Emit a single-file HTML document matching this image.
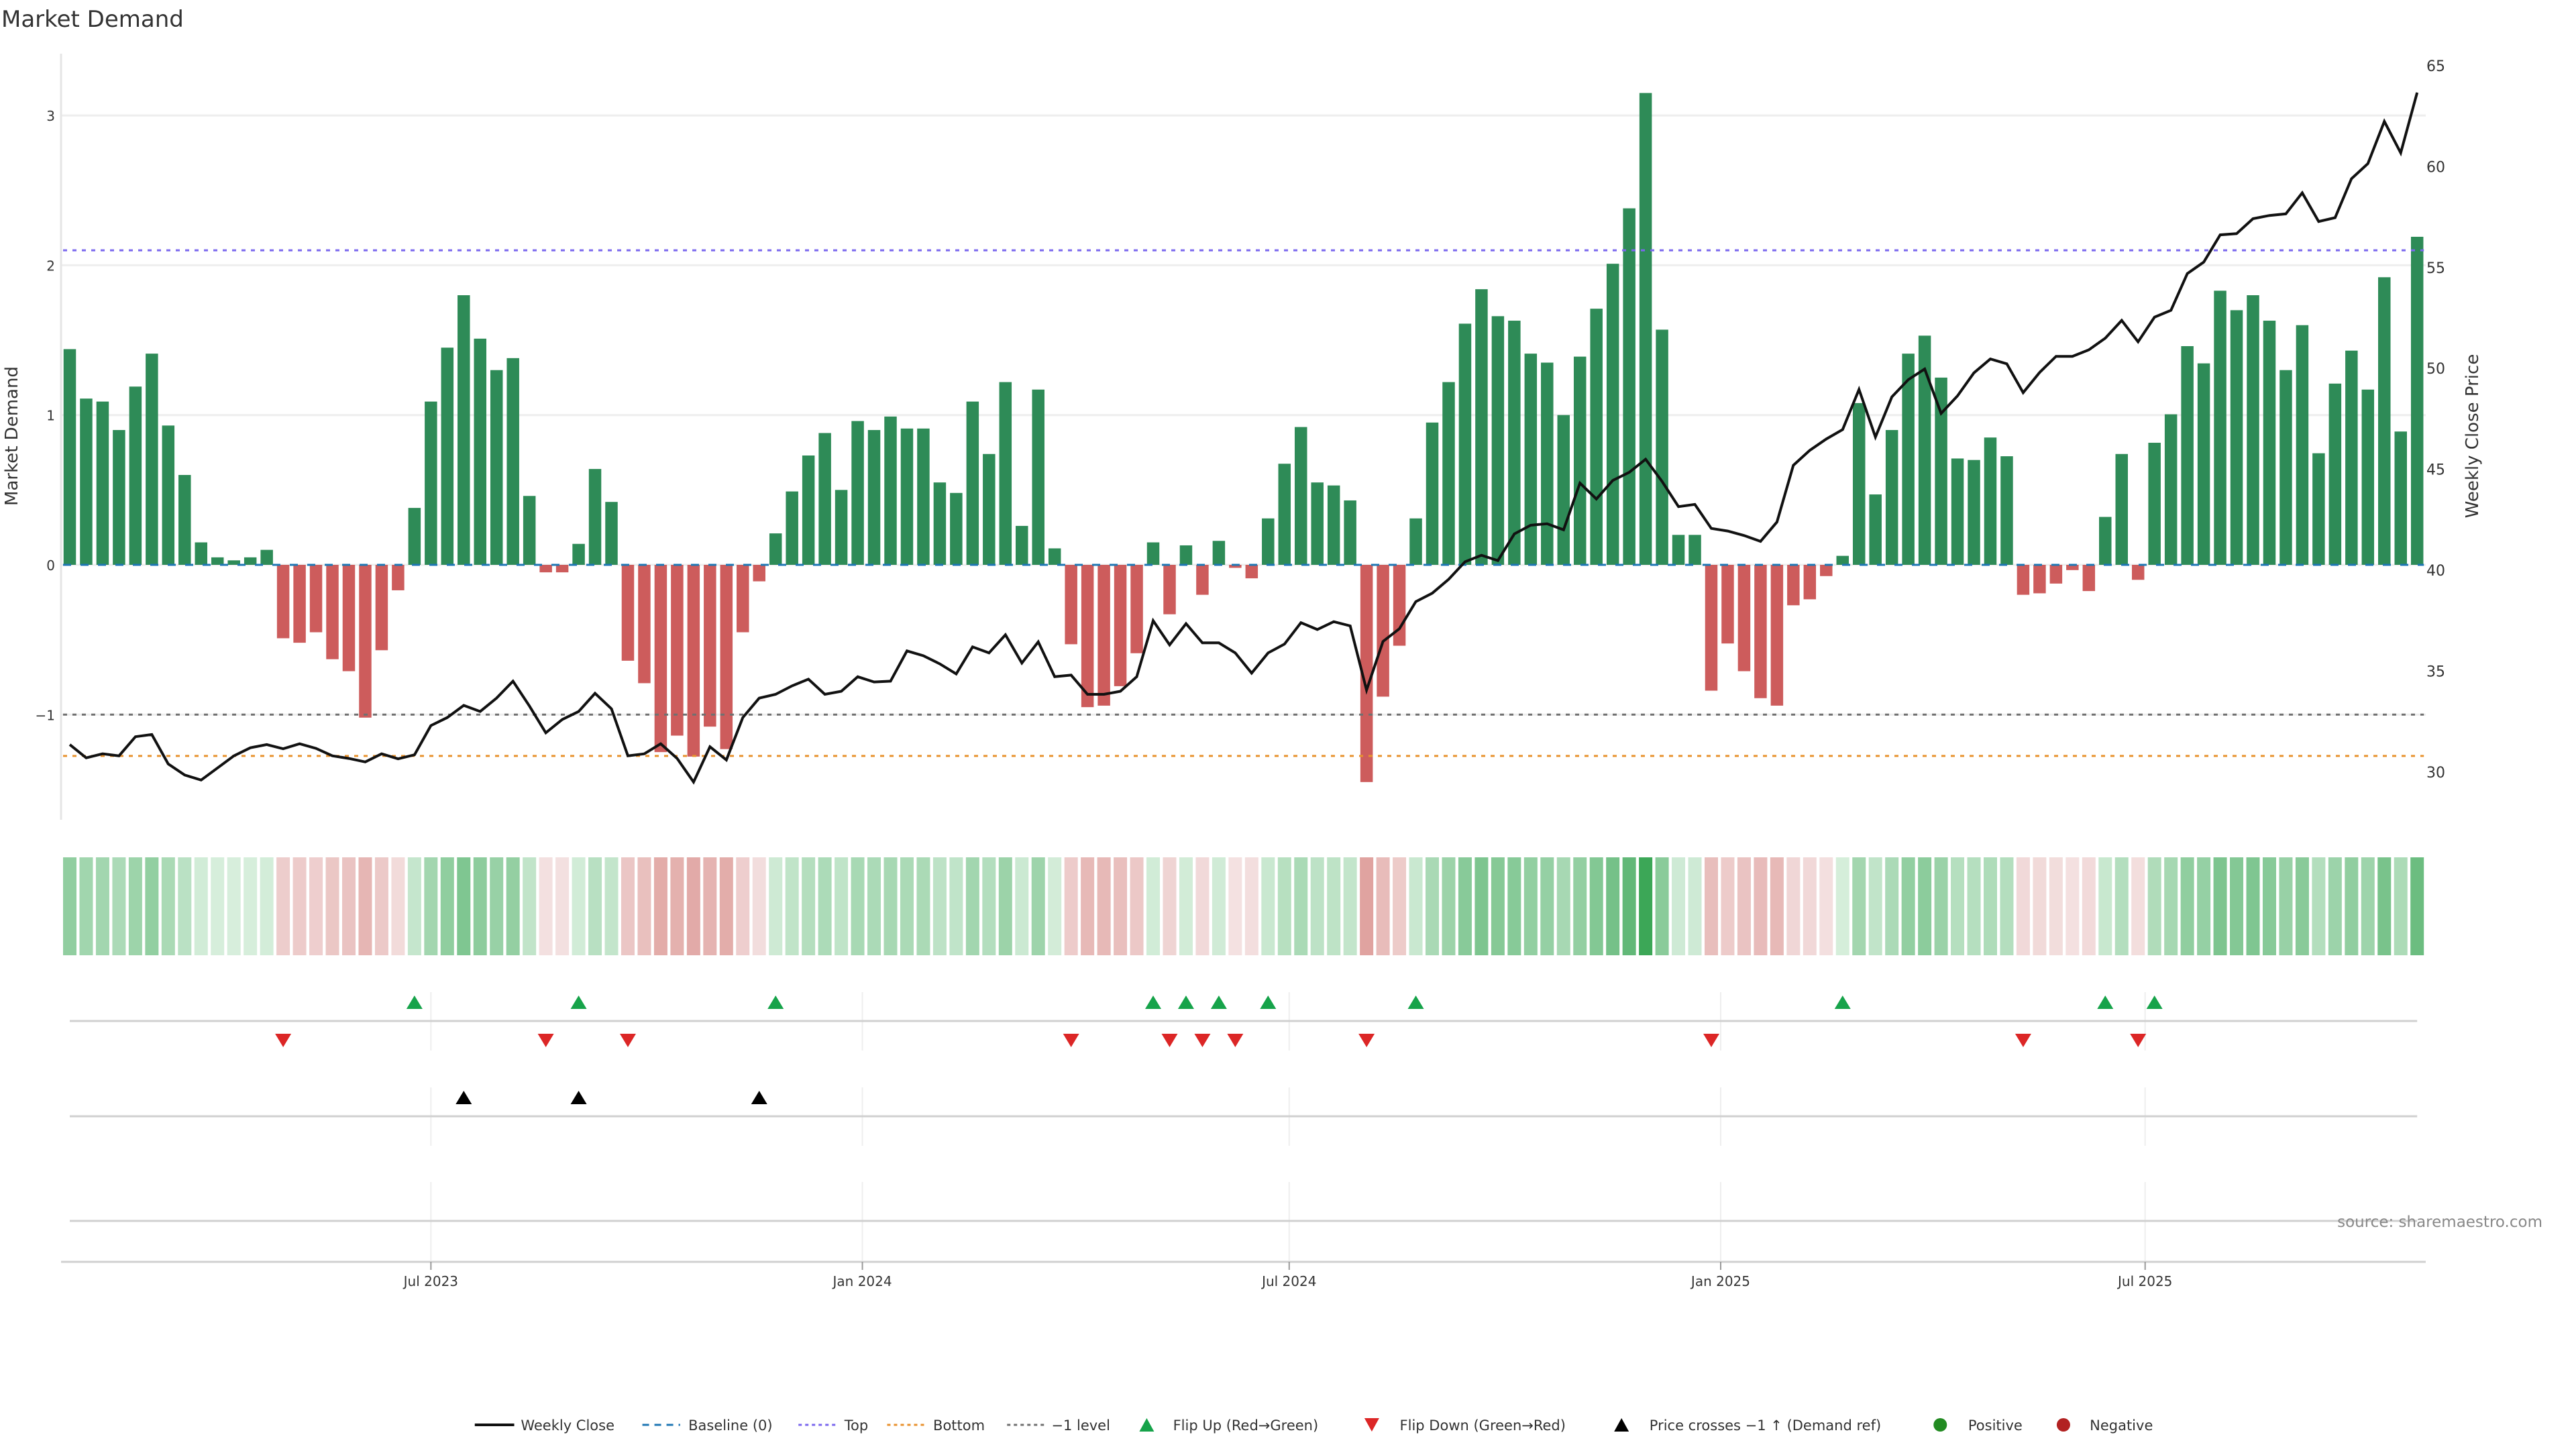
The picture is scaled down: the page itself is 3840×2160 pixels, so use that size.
<!DOCTYPE html>
<html><head><meta charset="utf-8"><style>
html,body{margin:0;padding:0;background:#fff;}
svg{display:block;font-family:"DejaVu Sans","Liberation Sans",sans-serif;}
</style></head><body>
<svg id="chart" width="3840" height="2160" viewBox="0 0 3840 2160" xmlns="http://www.w3.org/2000/svg">
<text x="2" y="40" font-size="34" fill="#333">Market Demand</text>
<g id="grid"></g>
<g id="bars"></g>
<g id="refs"></g>
<g id="price"></g>
<g id="heat"></g>
<g id="marks"></g>
<g id="axes"></g>
<text transform="translate(26,650) rotate(-90)" text-anchor="middle" font-size="26" fill="#333">Market Demand</text>
<text transform="translate(3694,650) rotate(-90)" text-anchor="middle" font-size="26" fill="#333">Weekly Close Price</text>
<text x="3790" y="1829" text-anchor="end" font-size="23" fill="#888">source: sharemaestro.com</text>
<g id="legend"></g>
</svg>
<script>
const demand=[1.44,1.11,1.09,0.90,1.19,1.41,0.93,0.60,0.15,0.05,0.03,0.05,0.10,-0.49,-0.52,-0.45,-0.63,-0.71,-1.02,-0.57,-0.17,0.38,1.09,1.45,1.80,1.51,1.30,1.38,0.46,-0.05,-0.05,0.14,0.64,0.42,-0.64,-0.79,-1.25,-1.14,-1.28,-1.08,-1.23,-0.45,-0.11,0.21,0.49,0.73,0.88,0.50,0.96,0.90,
0.99,0.91,0.91,0.55,0.48,1.09,0.74,1.22,0.26,1.17,0.11,-0.53,-0.95,-0.94,-0.81,-0.59,0.15,-0.33,0.13,-0.20,0.16,-0.02,-0.09,0.31,0.675,0.92,0.55,0.53,0.43,-1.45,-0.88,-0.54,0.31,0.95,1.22,1.61,1.84,1.66,1.63,1.41,1.35,1.00,1.39,1.71,2.01,2.38,3.15,1.57,0.20,0.20,
-0.84,-0.525,-0.71,-0.89,-0.94,-0.27,-0.23,-0.075,0.06,1.08,0.47,0.90,1.41,1.53,1.25,0.71,0.70,0.85,0.725,-0.20,-0.19,-0.125,-0.035,-0.175,0.32,0.74,-0.10,0.815,1.005,1.46,1.345,1.83,1.70,1.80,1.63,1.30,1.60,0.745,1.21,1.43,1.17,1.92,0.89,2.19];
const closePrice=[31.36,30.7,30.9,30.8,31.75,31.86,30.4,29.85,29.6,30.2,30.8,31.2,31.36,31.15,31.4,31.17,30.8,30.67,30.5,30.9,30.65,30.85,32.3,32.7,33.3,33.0,33.66,34.5,33.27,31.94,32.6,33.0,33.9,33.13,30.8,30.9,31.4,30.67,29.5,31.25,30.6,32.7,33.66,33.85,34.27,34.6,33.85,34.0,34.72,34.46,
34.5,36.0,35.76,35.36,34.86,36.2,35.9,36.8,35.4,36.45,34.72,34.8,33.85,33.85,34.0,34.72,37.5,36.3,37.35,36.4,36.4,35.9,34.9,35.9,36.34,37.4,37.06,37.45,37.24,34.06,36.47,37.1,38.44,38.86,39.55,40.42,40.74,40.48,41.8,42.23,42.3,42.0,44.32,43.53,44.45,44.85,45.5,44.4,43.15,43.26,
42.07,41.94,41.72,41.43,42.39,45.2,45.94,46.5,46.97,48.96,46.6,48.59,49.44,49.97,47.77,48.64,49.78,50.47,50.23,48.8,49.8,50.6,50.6,50.92,51.5,52.38,51.32,52.54,52.88,54.7,55.27,56.62,56.68,57.42,57.58,57.66,58.7,57.28,57.47,59.4,60.15,62.24,60.68,63.67];
const demandTicks=[-1,0,1,2,3];
const demandTickLabels=["\u22121","0","1","2","3"];
const priceTicks=[30,35,40,45,50,55,60,65];
const dateTicks=["2023-07-01","2024-01-01","2024-07-01","2025-01-01","2025-07-01"];
const dateTickLabels=["Jul 2023","Jan 2024","Jul 2024","Jan 2025","Jul 2025"];
const startDate="2023-01-28";
const topLevel=2.1, bottomLevel=-1.276, minusOneLevel=-1, priceRef=32.85;

const NS="http://www.w3.org/2000/svg";
function el(tag,attrs,parent){const e=document.createElementNS(NS,tag);for(const k in attrs)e.setAttribute(k,attrs[k]);parent.appendChild(e);return e;}
const X0=104,DX=24.47,XL=91,XR=3616;
const xi=i=>X0+i*DX;
const yD=v=>842-v*223.3;
const yP=p=>850-(p-40)*30.08;
const xDate=s=>X0+((new Date(s+"T00:00:00Z")-new Date(startDate+"T00:00:00Z"))/86400000/7)*DX;
const G=id=>document.getElementById(id);

demandTicks.forEach((t,k)=>{
  const l=el('line',{x1:XL,x2:XR,y1:yD(t),y2:yD(t),stroke:'#eeeeee','stroke-width':3},G('grid'));
  
  const tx=el('text',{x:82,y:yD(t)+8,'text-anchor':'end','font-size':20,fill:'#333'},G('axes'));
  
  tx.textContent=demandTickLabels[k];
});
priceTicks.forEach(p=>{
  const tx=el('text',{x:3617,y:yP(p)+8,'font-size':22,fill:'#333'},G('axes'));
  
  tx.textContent=String(p);
});
let ax=el('line',{x1:XL,x2:XL,y1:80,y2:1222,stroke:'#e6e6e6','stroke-width':3},G('axes'));


const BW=18.5;
demand.forEach((v,i)=>{
  const y=Math.min(yD(v),yD(0)),h=Math.abs(yD(v)-yD(0));
  const r=el('rect',{x:xi(i)-BW/2,y:y,width:BW,height:Math.max(h,1),fill:v>=0?'#2e8b57':'#cd5c5c'},G('bars'));
  
});
function ref(v,color,dash,name){const l=el('line',{x1:X0-10,x2:xi(demand.length-1)+10,y1:yD(v),y2:yD(v),stroke:color,'stroke-width':3,'stroke-dasharray':dash},G('refs'));
  }
ref(0,'#1f77b4','12 14','baseline-line');
ref(topLevel,'#7b68ee','6 8','top-line');
ref(minusOneLevel,'#707070','6 8','minus-one-line');
ref(bottomLevel,'#e8922e','6 8','bottom-line');
const pts=closePrice.map((p,i)=>xi(i).toFixed(1)+','+yP(p).toFixed(1)).join(' ');
const pl=el('polyline',{points:pts,fill:'none',stroke:'#111','stroke-width':4,'stroke-linejoin':'miter'},G('price'));


function heatColor(v){let c;if(v>=0){c=[216-49.5*v,239-22.9*v,221-42.5*v];}else{const a=-v;c=[244-13.8*a,226-43.4*a,226-45.5*a];}
  return 'rgb('+c.map(x=>Math.round(Math.max(0,x))).join(',')+')';}
demand.forEach((v,i)=>{
  const r=el('rect',{x:xi(i)-10,y:1278,width:20,height:146,fill:heatColor(v)},G('heat'));
  
});

[[1479,1566],[1621,1708],[1762,1879]].forEach(rg=>{dateTicks.forEach(d=>{
  const l=el('line',{x1:xDate(d),x2:xDate(d),y1:rg[0],y2:rg[1],stroke:'#eeeeee','stroke-width':2},G('grid'));
  });});
[1522,1664,1820].forEach(y=>{const l=el('line',{x1:X0,x2:xi(demand.length-1),y1:y,y2:y,stroke:'#d0d0d0','stroke-width':3},G('axes'));
  });
function tri(cx,cy,up,color,name){const w=12,h=10;
  const p=up?`${cx-w},${cy+h} ${cx+w},${cy+h} ${cx},${cy-h}`:`${cx-w},${cy-h} ${cx+w},${cy-h} ${cx},${cy+h}`;
  const t=el('polygon',{points:p,fill:color},G('marks'));}
for(let i=1;i<demand.length;i++){
  if(demand[i-1]<0&&demand[i]>=0)tri(xi(i),1494,true,'#16a34a','flip-up-marker');
  if(demand[i-1]>=0&&demand[i]<0)tri(xi(i),1551,false,'#dc2626','flip-down-marker');
  if(closePrice[i-1]<priceRef&&closePrice[i]>=priceRef)tri(xi(i),1636,true,'#000','price-cross-marker');
}
ax=el('line',{x1:XL,x2:XR,y1:1881,y2:1881,stroke:'#d0d0d0','stroke-width':3},G('axes'));

dateTicks.forEach((d,k)=>{const x=xDate(d);
  const t=el('line',{x1:x,x2:x,y1:1881,y2:1893,stroke:'#999','stroke-width':2},G('axes'));
  
  const tx=el('text',{x:x,y:1917,'text-anchor':'middle','font-size':20,fill:'#333'},G('axes'));
  
  tx.textContent=dateTickLabels[k];});

const L=G('legend'),LY=2124,S=2.449;
function ltext(x,s){const t=el('text',{x:x*S,y:LY+8,'font-size':21,fill:'#333'},L);t.textContent=s;}
function lline(x1,x2,color,dash,w){const l=el('line',{x1:x1*S,x2:x2*S,y1:LY,y2:LY,stroke:color,'stroke-width':w,'stroke-dasharray':dash},L);}
lline(289,313,'#111','none',4);ltext(317,'Weekly Close');
lline(391,414,'#1f77b4','10 8',3);ltext(419,'Baseline (0)');
lline(486,509,'#7b68ee','5 5',3);ltext(514,'Top');
lline(540,563,'#e8922e','5 5',3);ltext(568,'Bottom');
lline(613,636,'#707070','5 5',3);ltext(640,'\u22121 level');
function ltri(x,up,color){const cx=x*S,w=11,h=10;const p=up?`${cx-w},${LY+h} ${cx+w},${LY+h} ${cx},${LY-h}`:`${cx-w},${LY-h} ${cx+w},${LY-h} ${cx},${LY+h}`;
  const t=el('polygon',{points:p,fill:color},L);}
ltri(698,true,'#16a34a');ltext(714,'Flip Up (Red\u2192Green)');
ltri(835,false,'#dc2626');ltext(852,'Flip Down (Green\u2192Red)');
ltri(987,true,'#000');ltext(1004,'Price crosses \u22121 \u2191 (Demand ref)');
let c=el('circle',{cx:1181*S,cy:LY,r:10,fill:'#228b22'},L);ltext(1198,'Positive');
c=el('circle',{cx:1256*S,cy:LY,r:10,fill:'#b22222'},L);ltext(1272,'Negative');
</script>
</body></html>
